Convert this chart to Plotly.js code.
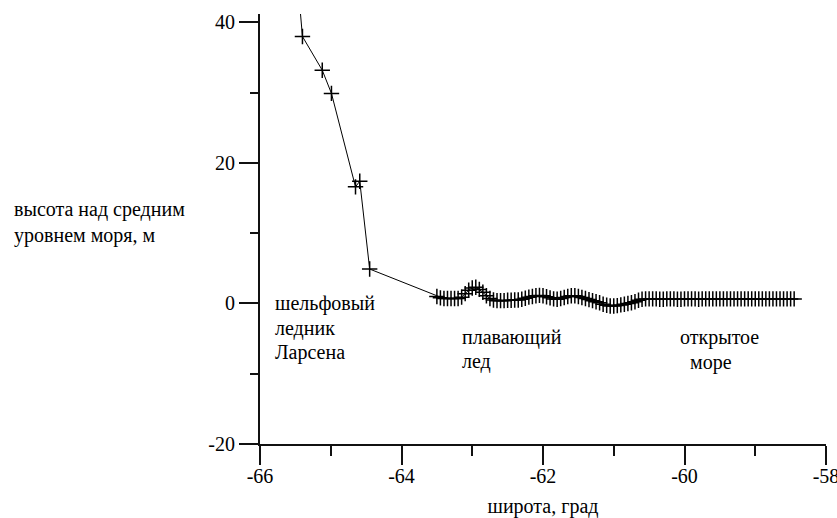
<!DOCTYPE html>
<html>
<head>
<meta charset="utf-8">
<script src="https://cdn.plot.ly/plotly-3.0.1.min.js"></script>
<style>
html,body{margin:0;padding:0;background:#fff;}
#chart{width:837px;height:518px;}
</style>
</head>
<body>
<div id="chart"></div>
<script>
// Latitude (deg) and elevation above mean sea level (m)
const latitude = [
  -65.46, -65.40, -65.12, -64.99, -64.65, -64.59, -64.45, -63.50,
  -63.45, -63.40, -63.35, -63.30, -63.25, -63.20, -63.15, -63.10, -63.05, -63.00,
  -62.95, -62.90, -62.85, -62.80, -62.75, -62.70, -62.65, -62.60, -62.55, -62.50,
  -62.45, -62.40, -62.35, -62.30, -62.25, -62.20, -62.15, -62.10, -62.05, -62.00,
  -61.95, -61.90, -61.85, -61.80, -61.75, -61.70, -61.65, -61.60, -61.55, -61.50,
  -61.45, -61.40, -61.35, -61.30, -61.25, -61.20, -61.15, -61.10, -61.05, -61.00,
  -60.95, -60.90, -60.85, -60.80, -60.75, -60.70, -60.65, -60.60, -60.55, -60.50,
  -60.45, -60.40, -60.35, -60.30, -60.25, -60.20, -60.15, -60.10, -60.05, -60.00,
  -59.95, -59.90, -59.85, -59.80, -59.75, -59.70, -59.65, -59.60, -59.55, -59.50,
  -59.45, -59.40, -59.35, -59.30, -59.25, -59.20, -59.15, -59.10, -59.05, -59.00,
  -58.95, -58.90, -58.85, -58.80, -58.75, -58.70, -58.65, -58.60, -58.55, -58.50,
  -58.45
];
const elevation = [
  45.0, 38.0, 33.2, 29.9, 16.6, 17.4, 4.9, 1.0,
  0.8, 0.7, 0.7, 0.7, 0.7, 0.7, 0.9, 1.4, 1.9, 2.2,
  2.3, 2.0, 1.6, 1.1, 0.7, 0.5, 0.4, 0.4, 0.4, 0.45,
  0.45, 0.5, 0.5, 0.6, 0.75, 0.9, 1.0, 1.1, 1.15, 1.1,
  0.95, 0.8, 0.65, 0.6, 0.7, 0.85, 1.0, 1.1, 1.1, 1.0,
  0.85, 0.7, 0.55, 0.4, 0.25, 0.1, -0.1, -0.25, -0.35, -0.35,
  -0.3, -0.2, -0.1, 0.0, 0.1, 0.25, 0.45, 0.6, 0.65, 0.65,
  0.65, 0.65, 0.6, 0.6, 0.65, 0.65, 0.65, 0.6, 0.6, 0.65,
  0.65, 0.65, 0.65, 0.6, 0.65, 0.65, 0.65, 0.65, 0.65, 0.65,
  0.65, 0.65, 0.65, 0.65, 0.65, 0.65, 0.65, 0.65, 0.65, 0.65,
  0.65, 0.65, 0.65, 0.65, 0.65, 0.65, 0.65, 0.65, 0.65, 0.65,
  0.65
];
const xTicks = [-66, -64, -62, -60, -58];
const yTicks = [-20, 0, 20, 40];
const regionLabels = ["шельфовый", "ледник", "Ларсена", "плавающий", "лед", "открытое", "море"];
const regionX = [-65.82, -65.82, -65.82, -63.17, -63.17, -59.50, -59.63];
const regionY = [0.0, -3.6, -7.0, -4.8, -8.3, -4.9, -8.4];
const regionAnchor = ["left", "left", "left", "left", "left", "center", "center"];

const FONT = "Times New Roman";

const trace = {
  x: latitude, y: elevation,
  type: "scatter", mode: "lines+markers",
  line: {color: "#000", width: 1},
  marker: {symbol: "cross-thin", size: 11, line: {color: "#000", width: 1.5}, color: "#000"},
  hoverinfo: "skip"
};

const annotations = regionLabels.map((t, i) => ({
  text: t, x: regionX[i], y: regionY[i], xref: "x", yref: "y",
  xanchor: regionAnchor[i], yanchor: "middle", showarrow: false,
  font: {family: FONT, size: 20, color: "#000"}
}));
annotations.push({
  text: "высота над средним<br>уровнем моря, м",
  xref: "paper", yref: "paper", x: -0.438, y: 0.515,
  xanchor: "left", yanchor: "middle", align: "left", showarrow: false,
  font: {family: FONT, size: 20, color: "#000"}
});

const layout = {
  width: 837, height: 518,
  margin: {l: 260, r: 11, t: 14, b: 74},
  paper_bgcolor: "#fff", plot_bgcolor: "#fff",
  showlegend: false,
  font: {family: FONT, size: 20, color: "#000"},
  xaxis: {
    range: [-66, -58], tickvals: xTicks, ticktext: xTicks.map(String),
    showgrid: false, zeroline: false, showline: true, linecolor: "#111", linewidth: 2,
    ticks: "outside", ticklen: 19, tickwidth: 2, tickcolor: "#111",
    ticklabelstandoff: -6, ticklabeloverflow: "allow",
    tickfont: {family: FONT, size: 20, color: "#000"},
    minor: {dtick: 1, tick0: -66, ticks: "outside", ticklen: 10, tickwidth: 2, tickcolor: "#111", showgrid: false},
    title: {text: "широта, град", standoff: 14, font: {family: FONT, size: 20, color: "#000"}},
    automargin: false
  },
  yaxis: {
    range: [-20, 41.2], tickvals: yTicks, ticktext: yTicks.map(String),
    showgrid: false, zeroline: false, showline: true, linecolor: "#111", linewidth: 2,
    ticks: "outside", ticklen: 19, tickwidth: 2, tickcolor: "#111",
    tickfont: {family: FONT, size: 20, color: "#000"},
    minor: {dtick: 10, tick0: -20, ticks: "outside", ticklen: 8, tickwidth: 2, tickcolor: "#111", showgrid: false},
    automargin: false
  },
  shapes: [
    {type: "line", xref: "paper", yref: "paper", x0: 0, x1: 0, y0: 0, y1: -0.026, line: {color: "#111", width: 2}},
    {type: "line", xref: "paper", yref: "paper", x0: -0.018, x1: 0, y0: 0, y1: 0, line: {color: "#111", width: 2}}
  ],
  annotations: annotations
};

Plotly.newPlot("chart", [trace], layout, {displayModeBar: false, staticPlot: true});
</script>
</body>
</html>
